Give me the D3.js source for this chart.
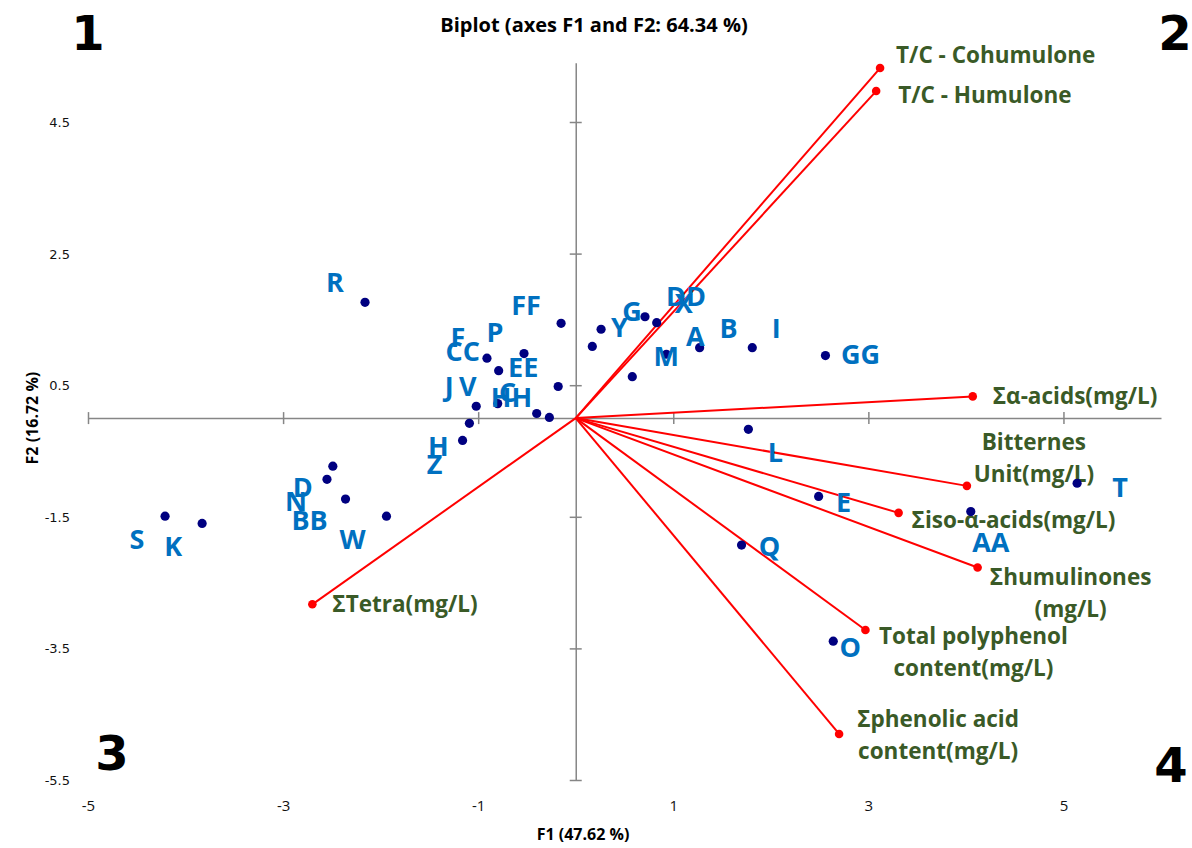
<!DOCTYPE html>
<html>
<head>
<meta charset="utf-8">
<script src="https://cdn.jsdelivr.net/npm/d3@7"></script>
<style>
  body { margin: 0; background: #ffffff; }
  svg { display: block; }
</style>
</head>
<body>
<script>
// ---------- data ----------
const title = "Biplot (axes F1 and F2: 64.34 %)";
const xTitle = "F1 (47.62 %)";
const yTitle = "F2 (16.72 %)";

const xTicks = [-5, -3, -1, 1, 3, 5];
const xTickLabels = ["-5", "-3", "-1", "1", "3", "5"];
const yTicks = [4.5, 2.5, 0.5, -1.5, -3.5, -5.5];
const yTickLabels = ["4.5", "2.5", "0.5", "-1.5", "-3.5", "-5.5"];

// observations (scores)
const obsNames = ["R","FF","P","F","CC","EE","J","V","C","HH","H","Z","D","N","BB","W","S","K",
                  "Y","G","DD","X","A","B","I","GG","M","L","T","E","AA","Q","O"];
const obsF1 = [-2.16,-0.15,-0.53,-0.91,-0.79,-0.18,-1.02,-0.80,-0.40,-0.27,-1.09,-1.16,-2.49,-2.55,-2.36,-1.94,-4.21,-3.83,
               0.17,0.26,0.71,0.83,0.93,1.27,1.81,2.56,0.58,1.77,5.14,2.49,4.05,1.70,2.64];
const obsF2 = [1.76,1.44,0.98,0.91,0.72,0.48,0.18,0.22,0.07,0.01,-0.08,-0.34,-0.73,-0.93,-1.23,-1.49,-1.49,-1.60,
               1.09,1.35,1.54,1.45,0.97,1.07,1.07,0.95,0.63,-0.17,-0.99,-1.19,-1.42,-1.93,-3.39];

// variables (loadings, scaled)
const varNames = ["T/C - Cohumulone","T/C - Humulone","Σα-acids(mg/L)","Bitternes Unit(mg/L)","Σiso-α-acids(mg/L)",
                  "Σhumulinones (mg/L)","Total polyphenol content(mg/L)","Σphenolic acid content(mg/L)","ΣTetra(mg/L)"];
const varF1 = [3.12, 3.08, 4.07, 4.01, 3.31, 4.12, 2.97, 2.70, -2.70];
const varF2 = [5.32, 4.97, 0.33, -1.03, -1.44, -2.27, -3.22, -4.80, -2.83];

const quadrantLabels = ["1", "2", "3", "4"];

// ---------- layout (pixels, not data) ----------
const obsLabelOffset = {
  R:[-30,-20], FF:[-35,-18], P:[-29,-21], F:[-29,-21], CC:[-36,-19], EE:[-35,-19], J:[-27,-20], V:[-30,-17],
  C:[-29,-21], HH:[-38,-20], H:[-31,23], Z:[-28,24], D:[-30,21], N:[-31,22], BB:[-36,22], W:[-34,23],
  S:[-28,23], K:[-29,23], Y:[27,-19], G:[31,-18], DD:[41,-20], X:[27,-19], A:[29,-18], B:[29,-19],
  I:[24,-19], GG:[35,-1], M:[34,-20], L:[27,23], T:[43,4], E:[25,6], AA:[20,31], Q:[28,1], O:[17,6]
};
const varLabelLayout = [
  {lines:["T/C - Cohumulone"], anchor:"start", dx:16, dy:-13},
  {lines:["T/C - Humulone"], anchor:"start", dx:22, dy:4},
  {lines:["Σα-acids(mg/L)"], anchor:"start", dx:20, dy:0},
  {lines:["Bitternes","Unit(mg/L)"], anchor:"middle", dx:67, dy:-44},
  {lines:["Σiso-α-acids(mg/L)"], anchor:"start", dx:13, dy:7},
  {lines:["Σhumulinones","(mg/L)"], anchor:"middle", dx:93, dy:10},
  {lines:["Total polyphenol","content(mg/L)"], anchor:"middle", dx:108, dy:6},
  {lines:["Σphenolic acid","content(mg/L)"], anchor:"middle", dx:99, dy:-15},
  {lines:["ΣTetra(mg/L)"], anchor:"start", dx:20, dy:0}
];
const quadPos = [[88,50],[1175,50],[112,770],[1171,782]];

const W = 1192, H = 848;
const x = d3.scaleLinear().domain([-5, 6]).range([88, 1161]);
const y = d3.scaleLinear().domain([-5.5, 5.4]).range([780, 780 - 10.9 * 65.8]);

const svg = d3.select("body").append("svg").attr("width", W).attr("height", H);
const axisColor = "#868686";
const sans = "'Open Sans', Lato, sans-serif";

// title
svg.append("text").attr("x", 594).attr("y", 32).attr("text-anchor", "middle")
  .attr("font-family", sans).attr("font-weight", "bold").attr("font-size", 20).attr("fill", "#000")
  .text(title);

// crossing axes
const gx = svg.append("g").attr("transform", `translate(0,${y(0)})`)
  .call(d3.axisBottom(x).tickValues(xTicks).tickSize(0).tickSizeOuter(0).tickFormat(""));
gx.selectAll(".tick line").attr("y1", -6).attr("y2", 6);
gx.selectAll("path,line").attr("stroke", axisColor).attr("stroke-width", 1.5);

const gy = svg.append("g").attr("transform", `translate(${x(0)},0)`)
  .call(d3.axisLeft(y).tickValues(yTicks).tickSize(0).tickSizeOuter(0).tickFormat(""));
gy.selectAll(".tick line").attr("x1", -6).attr("x2", 6);
gy.selectAll("path,line").attr("stroke", axisColor).attr("stroke-width", 1.5);

// tick labels
const gxl = svg.append("g").attr("transform", "translate(0,806)")
  .call(d3.axisBottom(x).tickValues(xTicks).tickSize(0).tickPadding(0).tickFormat((d, i) => xTickLabels[i]));
gxl.select(".domain").remove();
gxl.selectAll("text").attr("y", 0).attr("dy", "0.35em")
  .attr("font-family", sans).attr("font-size", 15).attr("fill", "#111");

const gyl = svg.append("g").attr("transform", "translate(70,0)")
  .call(d3.axisLeft(y).tickValues(yTicks).tickSize(0).tickPadding(0).tickFormat((d, i) => yTickLabels[i]));
gyl.select(".domain").remove();
gyl.selectAll("text").attr("dy", "0.35em")
  .attr("font-family", "'DejaVu Sans', Verdana, sans-serif").attr("font-size", 13).attr("fill", "#111");

// axis titles
svg.append("text").attr("x", 583).attr("y", 840).attr("text-anchor", "middle")
  .attr("font-family", sans).attr("font-weight", "bold").attr("font-size", 16).text(xTitle);
svg.append("text").attr("transform", `translate(38,${y(0)}) rotate(-90)`).attr("text-anchor", "middle")
  .attr("font-family", sans).attr("font-weight", "bold").attr("font-size", 16).text(yTitle);

// vectors
const vars = varNames.map((n, i) => ({name: n, f1: varF1[i], f2: varF2[i], lay: varLabelLayout[i]}));
svg.append("g").selectAll("line").data(vars).join("line")
  .attr("x1", x(0)).attr("y1", y(0))
  .attr("x2", d => x(d.f1)).attr("y2", d => y(d.f2))
  .attr("stroke", "#ff0000").attr("stroke-width", 2);
svg.append("g").selectAll("circle").data(vars).join("circle")
  .attr("cx", d => x(d.f1)).attr("cy", d => y(d.f2)).attr("r", 4.3).attr("fill", "#ff0000");

const vl = svg.append("g").selectAll("text").data(vars).join("text")
  .attr("font-family", sans).attr("font-weight", "bold").attr("font-size", 22.5).attr("fill", "#3a5a27")
  .attr("text-anchor", d => d.lay.anchor);
vl.each(function(d) {
  const t = d3.select(this);
  d.lay.lines.forEach((ln, k) => {
    t.append("tspan").attr("x", x(d.f1) + d.lay.dx)
      .attr("y", y(d.f2) + d.lay.dy + k * 32).attr("dy", "0.35em").text(ln);
  });
});

// observations
const obs = obsNames.map((n, i) => ({name: n, f1: obsF1[i], f2: obsF2[i]}));
svg.append("g").selectAll("circle").data(obs).join("circle")
  .attr("cx", d => x(d.f1)).attr("cy", d => y(d.f2)).attr("r", 4.6).attr("fill", "#000080");
svg.append("g").selectAll("text").data(obs).join("text")
  .attr("x", d => x(d.f1) + obsLabelOffset[d.name][0])
  .attr("y", d => y(d.f2) + obsLabelOffset[d.name][1])
  .attr("dy", "0.35em").attr("text-anchor", "middle")
  .attr("font-family", sans).attr("font-weight", "bold").attr("font-size", 27).attr("fill", "#0070c0")
  .text(d => d.name);

// quadrant numbers
svg.append("g").selectAll("text").data(quadrantLabels).join("text")
  .attr("x", (d, i) => quadPos[i][0]).attr("y", (d, i) => quadPos[i][1])
  .attr("text-anchor", "middle")
  .attr("font-family", "'DejaVu Sans', Verdana, sans-serif").attr("font-weight", "bold").attr("font-size", 48)
  .attr("fill", "#000").text(d => d);
</script>
</body>
</html>
